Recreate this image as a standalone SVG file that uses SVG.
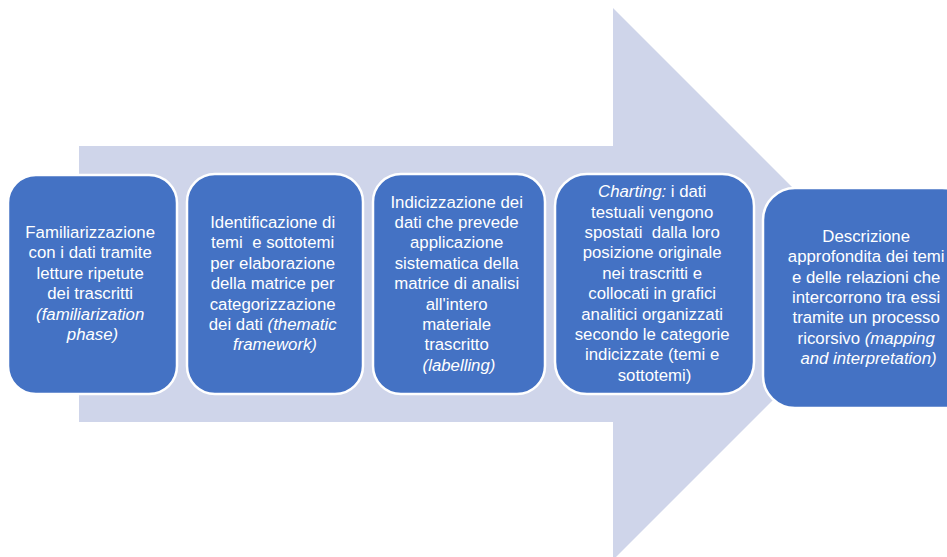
<svg xmlns="http://www.w3.org/2000/svg" width="947" height="557" viewBox="0 0 947 557">
  <style>
    .step { fill: #4472C4; stroke: #FFFFFF; stroke-width: 2.5; }
    .label { font-family: "Liberation Sans", Arial, sans-serif; font-size: 16.8px; fill: #FFFFFF; text-anchor: middle; }
    .it { font-style: italic; }
  </style>
  <rect width="947" height="557" fill="#FFFFFF"/>

  <!-- background process arrow -->
  <g id="connectors">
    <path d="M79,146 H613 V8 L889,284 L613,560 V422 H79 Z" fill="#CFD5EA"/>
  </g>

  <g id="step1">
    <rect class="step" x="8" y="175" width="169" height="219" rx="28"/>
    <text class="label" x="92.5" y="238">
      <tspan x="92.5">Familiarizzazione</tspan>
      <tspan x="92.5" dy="20.4">con i dati tramite</tspan>
      <tspan x="92.5" dy="20.4">letture ripetute</tspan>
      <tspan x="92.5" dy="20.4">dei trascritti</tspan>
      <tspan x="92.5" dy="20.4" class="it">(familiarization</tspan>
      <tspan x="92.5" dy="20.4" class="it">phase)</tspan>
    </text>
  </g>

  <g id="step2">
    <rect class="step" x="187" y="174" width="176" height="220" rx="28"/>
    <text class="label" x="275" y="228">
      <tspan x="275">Identificazione di</tspan>
      <tspan x="275" dy="20.4" xml:space="preserve">temi  e sottotemi</tspan>
      <tspan x="275" dy="20.4">per elaborazione</tspan>
      <tspan x="275" dy="20.4">della matrice per</tspan>
      <tspan x="275" dy="20.4">categorizzazione</tspan>
      <tspan x="275" dy="20.4" xml:space="preserve">dei dati <tspan class="it">(thematic</tspan></tspan>
      <tspan x="275" dy="20.4" class="it">framework)</tspan>
    </text>
  </g>

  <g id="step3">
    <rect class="step" x="373" y="174" width="172" height="220" rx="28"/>
    <text class="label" x="459" y="207.6">
      <tspan x="459">Indicizzazione dei</tspan>
      <tspan x="459" dy="20.4">dati che prevede</tspan>
      <tspan x="459" dy="20.4">applicazione</tspan>
      <tspan x="459" dy="20.4">sistematica della</tspan>
      <tspan x="459" dy="20.4">matrice di analisi</tspan>
      <tspan x="459" dy="20.4">all'intero</tspan>
      <tspan x="459" dy="20.4">materiale</tspan>
      <tspan x="459" dy="20.4">trascritto</tspan>
      <tspan x="459" dy="20.4" class="it">(labelling)</tspan>
    </text>
  </g>

  <g id="step4">
    <rect class="step" x="555" y="174" width="199" height="220" rx="32"/>
    <text class="label" x="654.5" y="197.2">
      <tspan x="654.5" xml:space="preserve"><tspan class="it">Charting:</tspan> i dati</tspan>
      <tspan x="654.5" dy="20.4">testuali vengono</tspan>
      <tspan x="654.5" dy="20.4" xml:space="preserve">spostati  dalla loro</tspan>
      <tspan x="654.5" dy="20.4">posizione originale</tspan>
      <tspan x="654.5" dy="20.4">nei trascritti e</tspan>
      <tspan x="654.5" dy="20.4">collocati in grafici</tspan>
      <tspan x="654.5" dy="20.4">analitici organizzati</tspan>
      <tspan x="654.5" dy="20.4">secondo le categorie</tspan>
      <tspan x="654.5" dy="20.4">indicizzate (temi e</tspan>
      <tspan x="654.5" dy="20.4">sottotemi)</tspan>
    </text>
  </g>

  <g id="step5">
    <rect class="step" x="763" y="188" width="211" height="220" rx="32"/>
    <text class="label" x="868.5" y="241.8">
      <tspan x="868.5">Descrizione</tspan>
      <tspan x="868.5" dy="20.4">approfondita dei temi</tspan>
      <tspan x="868.5" dy="20.4">e delle relazioni che</tspan>
      <tspan x="868.5" dy="20.4">intercorrono tra essi</tspan>
      <tspan x="868.5" dy="20.4">tramite un processo</tspan>
      <tspan x="868.5" dy="20.4" xml:space="preserve">ricorsivo <tspan class="it">(mapping</tspan></tspan>
      <tspan x="868.5" dy="20.4" class="it">and interpretation)</tspan>
    </text>
  </g>
</svg>
